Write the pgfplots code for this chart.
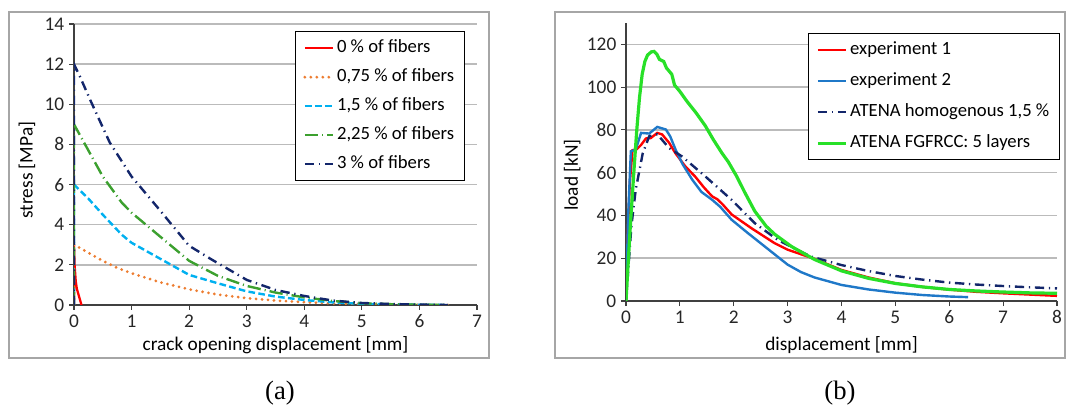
\documentclass[border=0pt]{standalone}
\usepackage{fontspec}
\setmainfont{Carlito}
\newfontfamily\capfont{Liberation Serif}
\usepackage{pgfplots}
\pgfplotsset{compat=1.18}
\definecolor{cRed}{HTML}{FF0000}
\definecolor{cOrange}{HTML}{ED7D31}
\definecolor{cLBlue}{HTML}{00B0F0}
\definecolor{cGreen}{HTML}{3CA02F}
\definecolor{cNavy}{HTML}{13266B}
\definecolor{cBlue}{HTML}{1F78C8}
\definecolor{cBGreen}{HTML}{28E028}
\definecolor{cFrame}{HTML}{A6A6A6}
\definecolor{cGrid}{HTML}{BBBBBB}
\pgfplotsset{
  myax/.style={
    scale only axis,
    anchor=south west,
    axis x line*=bottom, axis y line*=left,
    axis line style={-, black!75, line width=0.8pt},
    tick align=outside, major tick length=3.75pt,
    tick style={black!75, line width=0.8pt},
    xtick pos=bottom, ytick pos=left,
    ymajorgrids, major grid style={cGrid, line width=1.1pt},
    /pgf/number format/assume math mode=true,
    tick label style={font=\fontsize{14.5}{16}\selectfont, text=black!85},
    label style={font=\fontsize{14.5}{16}\selectfont, text=black},
    legend style={draw=black, line width=0.7pt, font=\fontsize{14}{16}\selectfont,
      nodes={text height=10pt, text depth=3pt, inner sep=2pt},
      row sep=4.75pt, inner xsep=6pt, inner ysep=4pt},
    legend cell align=left,
    legend image code/.code={\draw[##1] (0pt,0pt) -- (21pt,0pt);},
    /pgf/number format/use comma,
  }
}
\begin{document}
\begin{tikzpicture}
\useasboundingbox (0pt,0pt) rectangle (799.5pt,304.5pt);
\begin{scope}[x=0.75pt,y=0.75pt]
\draw[cFrame, line width=0.8pt] (9,48) rectangle (489,394);
\draw[cFrame, line width=0.8pt] (555,48) rectangle (1065,394);
\node[font=\capfont\fontsize{20}{24}\selectfont] at (280,13) {(a)};
\node[font=\capfont\fontsize{20}{24}\selectfont] at (840,13) {(b)};
\end{scope}

\begin{axis}[myax, at={(55.5pt,75.75pt)}, width=302.25pt, height=210.75pt,
  xmin=0, xmax=7, ymin=0, ymax=14,
  xtick={0,1,...,7}, ytick={0,2,...,14},
  xlabel={crack opening displacement [mm]},
  ylabel={stress [MPa]},
  xlabel style={at={(axis description cs:0.5,-0.142)}, anchor=center},
  ylabel style={at={(axis description cs:-0.117,0.48)}, anchor=center},
  legend style={at={(0.548,0.975)}, anchor=north west},
]
\addplot[cRed, line width=1.7pt] coordinates {(0,0)(0,3)(0.01,2)(0.03,1.2)(0.05,0.8)(0.13,0)};
\addlegendentry{0 \% of fibers}
\addplot[cOrange, line width=2.3pt, line cap=round, dash pattern=on 0pt off 4.5pt] coordinates {(0,0)(0,3)(0.1,2.85)(0.25,2.6)(0.5,2.2)(0.75,1.85)(1,1.58)(1.5,1.13)(2,0.78)(2.5,0.52)(3,0.34)(3.5,0.22)(4,0.14)(4.5,0.08)(5,0.05)(5.5,0.03)(6,0.01)(6.5,0)};
\addlegendentry{0,75 \% of fibers}
\addplot[cLBlue, line width=1.8pt, dash pattern=on 5pt off 2.5pt] coordinates {(0,0)(0,6)(0.25,5.3)(0.5,4.5)(0.83,3.5)(1,3.1)(1.5,2.3)(2,1.5)(2.5,1.08)(3,0.68)(3.5,0.42)(4,0.25)(4.5,0.13)(5,0.06)(5.5,0.03)(6,0.01)(6.5,0)};
\addlegendentry{1,5 \% of fibers}
\addplot[cGreen, line width=1.8pt, dash pattern=on 10pt off 3pt on 0.8pt off 3pt] coordinates {(0,0)(0,9)(0.25,7.7)(0.5,6.4)(0.83,5.1)(1,4.6)(1.5,3.4)(2,2.2)(2.5,1.45)(3,0.95)(3.5,0.62)(4,0.38)(4.5,0.2)(5,0.09)(5.5,0.04)(6,0.02)(6.5,0)};
\addlegendentry{2,25 \% of fibers}
\addplot[cNavy, line width=1.8pt, dash pattern=on 7pt off 3.5pt on 1pt off 3.5pt] coordinates {(0,0)(0,12)(0.1,11.4)(0.3,10.1)(0.62,8.1)(1,6.4)(1.44,4.9)(2,2.95)(2.4,2.25)(3,1.25)(3.5,0.75)(4,0.45)(4.5,0.22)(5,0.1)(5.5,0.05)(6,0.02)(6.5,0)};
\addlegendentry{3 \% of fibers}
\end{axis}

\begin{axis}[myax, at={(469.5pt,78.75pt)}, width=323.25pt, height=208.5pt,
  xmin=0, xmax=8, ymin=0, ymax=130,
  xtick={0,1,...,8}, ytick={0,20,...,120},
  xlabel={displacement [mm]},
  ylabel={load [kN]},
  xlabel style={at={(axis description cs:0.5,-0.158)}, anchor=center},
  ylabel style={at={(axis description cs:-0.125,0.453)}, anchor=center},
  legend style={at={(0.422,0.964)}, anchor=north west, row sep=6.25pt},
]
\addplot[cRed, line width=1.8pt] coordinates {(0,0)(0.03,30)(0.07,55)(0.12,70.5)(0.2,71)(0.28,73)(0.37,76)(0.46,76.2)(0.58,78.6)(0.67,77.9)(0.8,74)(0.92,69)(1.1,63)(1.29,58)(1.45,53)(1.6,48.9)(1.7,47.5)(1.8,45)(1.96,40.5)(2.33,34)(2.76,27)(3,24)(3.5,19.7)(4,14.5)(4.5,11)(5,8.3)(5.5,6.6)(6,5.3)(6.5,4.3)(7,3.6)(7.5,3)(8,2.4)};
\addlegendentry{experiment 1}
\addplot[cBlue, line width=1.8pt] coordinates {(0,0)(0.04,40)(0.09,70)(0.18,70.8)(0.28,78.6)(0.43,78.3)(0.58,81.4)(0.74,80.2)(0.82,77)(0.92,70.8)(1.05,64)(1.23,56.7)(1.4,51)(1.6,47.3)(1.75,44)(1.96,38)(2.25,32)(2.5,27)(2.75,22)(3,17)(3.25,13.5)(3.5,11)(4,7.5)(4.5,5.4)(5,3.9)(5.5,2.8)(6,2.1)(6.35,1.8)};
\addlegendentry{experiment 2}
\addplot[cNavy, line width=1.8pt, dash pattern=on 7pt off 3.5pt on 1pt off 3.5pt] coordinates {(0,0)(0.1,35)(0.18,52)(0.31,69)(0.43,77)(0.58,78)(0.8,71.5)(1.04,67.6)(1.47,58.3)(1.96,47.3)(2.39,36.4)(2.82,28.5)(3.43,20.8)(4,16.8)(4.5,14)(5,11.7)(5.5,10)(6,8.6)(6.5,7.7)(7,7)(7.5,6.4)(8,5.9)};
\addlegendentry{ATENA homogenous 1,5 \%}
\addplot[cBGreen, line width=2.4pt] coordinates {(0,0)(0.08,35)(0.15,62)(0.2,80)(0.25,95)(0.3,106)(0.35,112)(0.4,115)(0.47,116.5)(0.52,116.7)(0.57,115.5)(0.62,113)(0.7,112)(0.75,109)(0.85,106)(0.9,101)(1,98)(1.13,93.4)(1.3,88)(1.47,82)(1.62,75.5)(1.78,69.2)(1.9,65)(2.05,58.5)(2.2,51)(2.39,42)(2.6,35)(2.76,31.2)(3.07,25.5)(3.5,19.4)(4,14.1)(4.5,10.6)(5,8.2)(5.5,6.6)(6,5.4)(6.5,4.7)(7,4.2)(7.5,3.8)(8,3.6)};
\addlegendentry{ATENA FGFRCC: 5 layers}
\end{axis}
\end{tikzpicture}
\end{document}
